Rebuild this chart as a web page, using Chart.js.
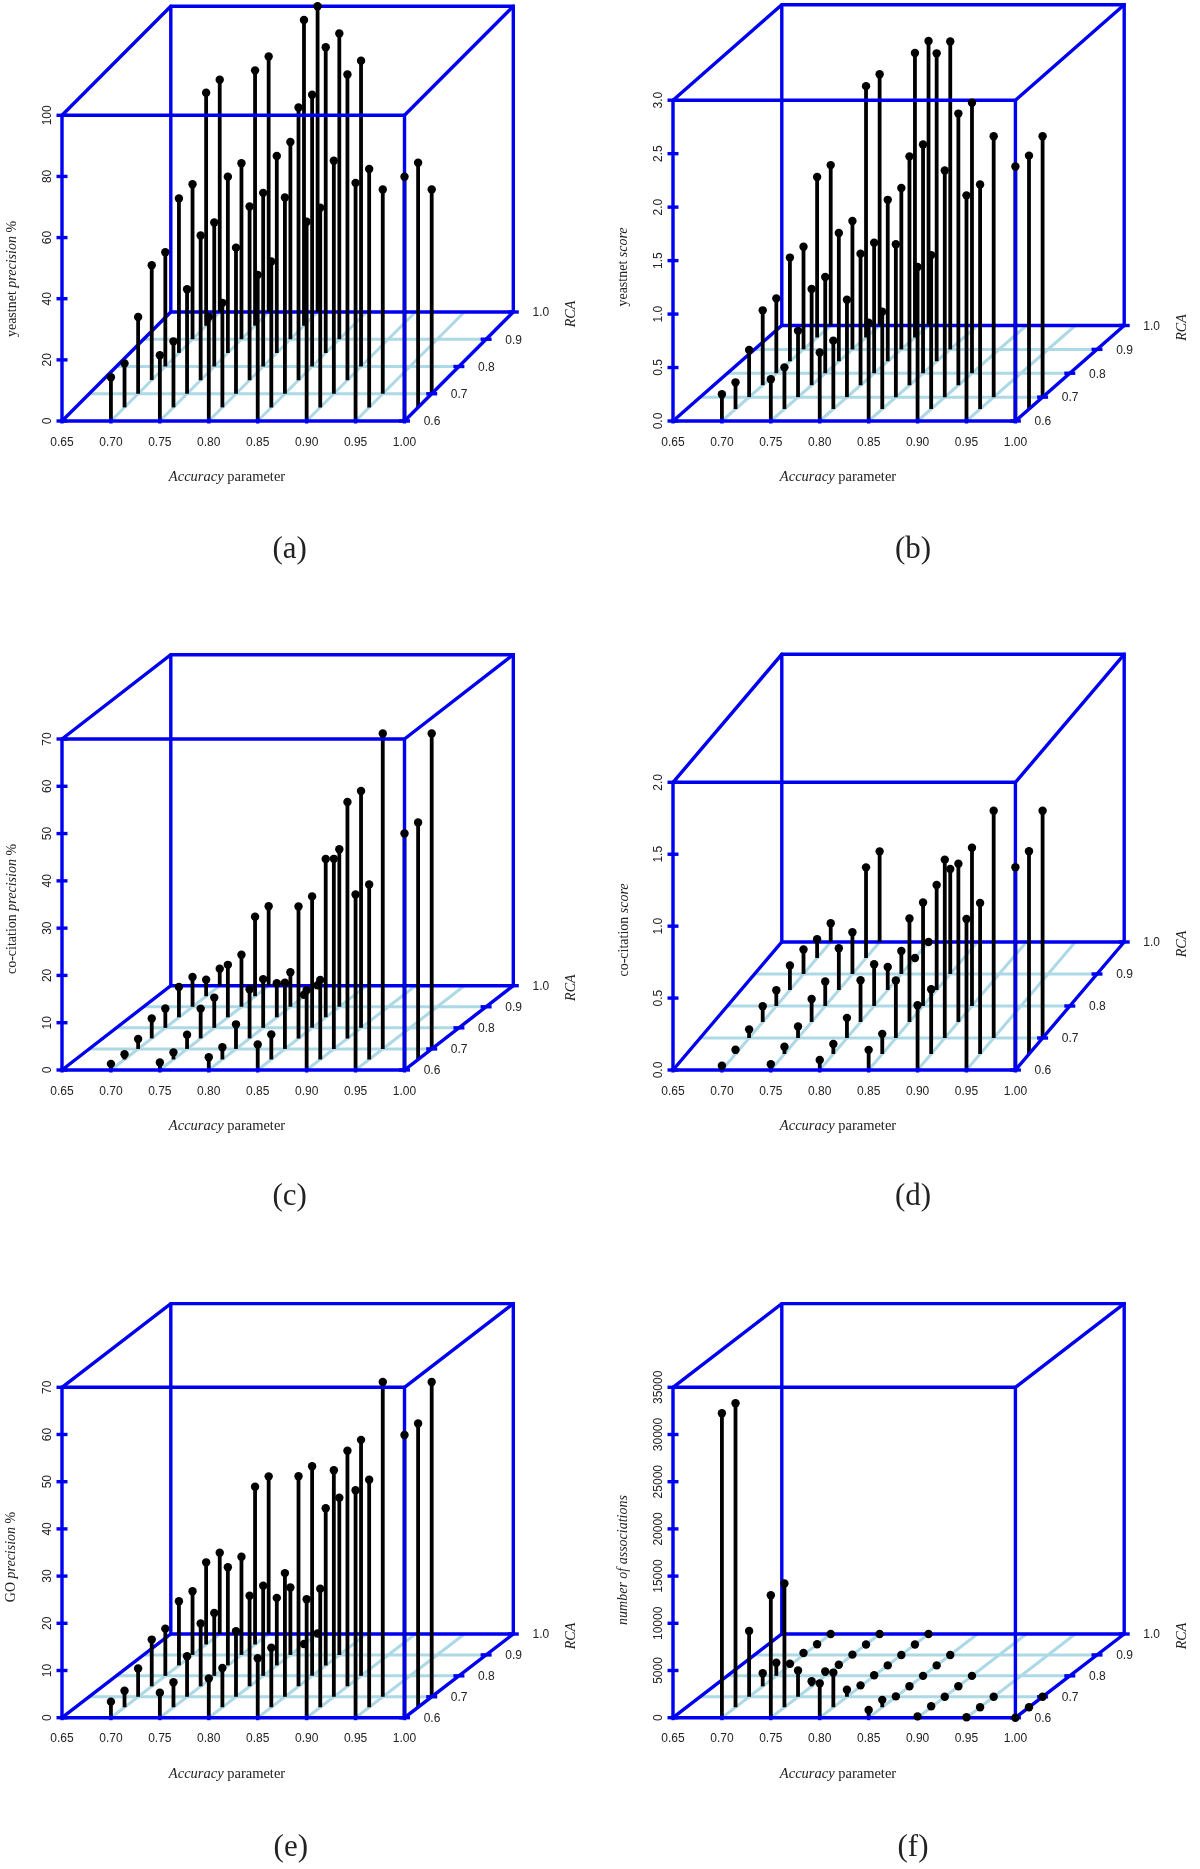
<!DOCTYPE html>
<html>
<head>
<meta charset="utf-8">
<title>Accuracy and RCA parameter sweeps</title>
<script src="https://cdn.jsdelivr.net/npm/chart.js@4/dist/chart.umd.min.js"></script>
<style>
  html, body { margin: 0; padding: 0; background: #fff; }
  #page { position: relative; width: 1200px; height: 1869px; overflow: hidden; }
  canvas { position: absolute; }
  .caption { position: absolute; transform: translate(-50%, -50%); font: 31px "Liberation Serif", serif; color: #222; }
</style>
</head>
<body>
<div id="page"></div>
<script>
// stems start at rca 0.60 and go up in steps of 0.05, one row per accuracy level
var accuracyLevels = [0.70, 0.75, 0.80, 0.85, 0.90, 0.95, 1.00];
var rcaLevels = [0.60, 0.65, 0.70, 0.75, 0.80, 0.85, 0.90, 0.95, 1.00];
var accuracyTicks = [0.65, 0.70, 0.75, 0.80, 0.85, 0.90, 0.95, 1.00];
var rcaTicks = [0.6, 0.7, 0.8, 0.9, 1.0];

var yeastnetPrecision = [
  [14.3, 14.4, 25.1, 37.6, 37.4, 50.5, 50.7, 76.2, 76.0],
  [21.5, 21.6, 34.2, 47.3, 47.1, 57.6, 57.6, 83.5, 83.6],
  [34.1, 34.2, 47.8, 56.8, 56.8, 64.4, 64.5, 100, 100],
  [47.8, 47.7, 64.2, 89.2, 88.9, 100, 100],
  [65.2, 65.3, 76.2, 100, 100],
  [77.9, 78.0, 66.8],
  [79.9, 80.0, 66.8]
];
var yeastnetScore = [
  [0.25, 0.25, 0.44, 0.70, 0.70, 0.97, 0.96, 1.50, 1.50],
  [0.39, 0.39, 0.62, 0.90, 0.90, 1.20, 1.20, 2.35, 2.35],
  [0.64, 0.64, 0.91, 1.23, 1.22, 1.51, 1.51, 2.66, 2.66],
  [0.92, 0.91, 1.43, 2.14, 2.14, 2.88, 2.88],
  [1.44, 1.44, 2.12, 2.54, 2.53],
  [2.11, 2.10, 2.44],
  [2.38, 2.37, 2.44]
];
var coCitationPrecision = [
  [1.3, 1.1, 2.1, 4.2, 4.1, 6.4, 6.3, 3.5, 3.6],
  [1.6, 1.5, 3.0, 6.3, 6.4, 11.1, 11.0, 16.8, 16.8],
  [2.7, 2.6, 5.2, 10.4, 10.3, 7.2, 7.3, 0.3, 0.1],
  [5.4, 5.3, 14.0, 27.9, 27.8, 33.5, 33.3],
  [16.9, 16.8, 40.2, 50.0, 50.1],
  [37.1, 37.0, 66.7],
  [50.0, 50.1, 66.7]
];
var coCitationScore = [
  [0.03, 0.03, 0.06, 0.11, 0.11, 0.17, 0.17, 0.13, 0.13],
  [0.04, 0.05, 0.08, 0.16, 0.17, 0.29, 0.29, 0.63, 0.63],
  [0.07, 0.07, 0.14, 0.29, 0.29, 0.16, 0.16, 0.00, 0.00],
  [0.14, 0.14, 0.40, 0.72, 0.72, 0.73, 0.73],
  [0.45, 0.45, 1.24, 1.10, 1.10],
  [1.05, 1.05, 1.58],
  [1.41, 1.41, 1.58]
];
var goPrecision = [
  [3.4, 3.5, 6.0, 9.9, 10.0, 13.6, 13.5, 17.4, 17.2],
  [5.3, 5.3, 8.6, 13.3, 13.3, 20.8, 20.8, 33.4, 33.4],
  [8.3, 8.3, 13.9, 19.2, 19.1, 14.3, 14.3, 0.1, 0.1],
  [12.6, 12.6, 26.2, 44.5, 44.4, 33.3, 33.3],
  [25.1, 25.1, 48.0, 49.9, 50.0],
  [48.2, 48.2, 66.7],
  [59.9, 60.1, 66.7]
];
var associations = [
  [32250, 32200, 6960, 1380, 1380, 180, 210, 30, 0],
  [12970, 13110, 2790, 530, 460, 70, 30, 0, 0],
  [3640, 3670, 740, 100, 70, 0, 0, 0, 0],
  [810, 780, 40, 0, 0, 0, 0],
  [140, 100, 0, 0, 0],
  [50, 0, 0],
  [0, 0, 0]
];

var blue = '#0000f0';
var floorBlue = '#add8e6';
var textColor = '#222';
var sans = '"Liberation Sans", Arial, sans-serif';
var serif = '"Liberation Serif", "Times New Roman", serif';

// pixel frame of each panel, in page coordinates
var panels = [
  { values: yeastnetPrecision, yTicks: [0, 20, 40, 60, 80, 100], decimals: 0, pageX: 0, pageY: 0,
    left: 62, right: 404.5, bottom: 421, frontTop: 115.3, depthY: 109,
    title: [['yeastnet ', false], ['precision', true], [' %', false]], titleX: 12.7, titleY: 279,
    caption: '(a)', captionX: 289.6, captionY: 548 },
  { values: yeastnetScore, yTicks: [0, 0.5, 1, 1.5, 2, 2.5, 3], decimals: 1, pageX: 600, pageY: 0,
    left: 73, right: 415.4, bottom: 421, frontTop: 100.2, depthY: 95.5,
    title: [['yeastnet ', false], ['score', true]], titleX: 23, titleY: 267,
    caption: '(b)', captionX: 913, captionY: 548 },
  { values: coCitationPrecision, yTicks: [0, 10, 20, 30, 40, 50, 60, 70], decimals: 0, pageX: 0, pageY: 640,
    left: 62, right: 404.5, bottom: 430, frontTop: 99, depthY: 84.3,
    title: [['co-citation ', false], ['precision', true], [' %', false]], titleX: 12.7, titleY: 269,
    caption: '(c)', captionX: 289.6, captionY: 555 },
  { values: coCitationScore, yTicks: [0, 0.5, 1, 1.5, 2], decimals: 1, pageX: 600, pageY: 640,
    left: 73, right: 415.4, bottom: 430, frontTop: 142.3, depthY: 128,
    title: [['co-citation ', false], ['score', true]], titleX: 24, titleY: 290,
    caption: '(d)', captionX: 913, captionY: 555 },
  { values: goPrecision, yTicks: [0, 10, 20, 30, 40, 50, 60, 70], decimals: 0, pageX: 0, pageY: 1290,
    left: 62, right: 404.5, bottom: 427.7, frontTop: 97.3, depthY: 83.7,
    title: [['GO ', false], ['precision', true], [' %', false]], titleX: 11, titleY: 267,
    caption: '(e)', captionX: 290.8, captionY: 556 },
  { values: associations, yTicks: [0, 5000, 10000, 15000, 20000, 25000, 30000, 35000], decimals: 0, pageX: 600, pageY: 1290,
    left: 73, right: 415.4, bottom: 427.7, frontTop: 97.3, depthY: 83.7,
    title: [['number of associations', true]], titleX: 23, titleY: 270,
    caption: '(f)', captionX: 913, captionY: 556 }
];

var depthPxX = 108.8;

// writes mixed roman/italic text as one centred run
function richText(ctx, parts, x, y, size, rotate) {
  ctx.save();
  ctx.translate(x, y);
  if (rotate) ctx.rotate(-Math.PI / 2);
  ctx.textBaseline = 'middle';
  ctx.textAlign = 'left';
  ctx.fillStyle = textColor;
  var total = 0;
  parts.forEach(function(p) {
    ctx.font = (p[1] ? 'italic ' : '') + size + 'px ' + serif;
    total += ctx.measureText(p[0]).width;
  });
  var pos = -total / 2;
  parts.forEach(function(p) {
    ctx.font = (p[1] ? 'italic ' : '') + size + 'px ' + serif;
    ctx.fillText(p[0], pos, 0);
    pos += ctx.measureText(p[0]).width;
  });
  ctx.restore();
}

function newPanel(panel) {
  var yMax = panel.yTicks[panel.yTicks.length - 1];
  var frontHeight = panel.bottom - panel.frontTop;
  var unitsPerPxX = 0.35 / (panel.right - panel.left);
  var depthX = depthPxX * unitsPerPxX;
  var depthY = panel.depthY * yMax / frontHeight;

  // oblique projection of (accuracy, rca, value) onto the chart's x and y
  function project(acc, rca, value) {
    var t = (rca - 0.6) / 0.4;
    return { x: acc + t * depthX, y: value + t * depthY };
  }
  function segment(points, color, width, order) {
    return { data: points, showLine: true, pointRadius: 0, borderColor: color,
      borderWidth: width, order: order, clip: false, borderCapStyle: 'round' };
  }

  var datasets = [];

  // floor grid
  [0.7, 0.8, 0.9].forEach(function(r) {
    datasets.push(segment([project(0.65, r, 0), project(1, r, 0)], floorBlue, 3, 5));
  });
  accuracyLevels.slice(0, 6).forEach(function(a) {
    datasets.push(segment([project(a, 0.6, 0), project(a, 1, 0)], floorBlue, 3, 5));
  });

  // back edges of the box sit behind the stems
  datasets.push(segment([project(0.65, 0.6, 0), project(0.65, 1, 0), project(1, 1, 0)], blue, 3.4, 4));
  datasets.push(segment([project(0.65, 1, 0), project(0.65, 1, yMax)], blue, 3.4, 4));

  // stems and their dots
  var tops = [];
  panel.values.forEach(function(column, i) {
    column.forEach(function(v, j) {
      var base = project(accuracyLevels[i], rcaLevels[j], 0);
      var top = project(accuracyLevels[i], rcaLevels[j], v);
      var stem = segment([base, top], '#000', 3.8, 3);
      stem.borderCapStyle = 'butt';
      datasets.push(stem);
      tops.push(top);
    });
  });
  datasets.push({ data: tops, pointRadius: 4.2, pointBackgroundColor: '#000', pointBorderWidth: 0,
    showLine: false, order: 0, clip: false });

  // front edges go over the stems
  datasets.push(segment([project(0.65, 0.6, 0), project(1, 0.6, 0), project(1, 1, 0), project(1, 1, yMax),
    project(0.65, 1, yMax), project(0.65, 0.6, yMax), project(0.65, 0.6, 0)], blue, 3.4, 1));
  datasets.push(segment([project(1, 0.6, 0), project(1, 0.6, yMax), project(1, 1, yMax)], blue, 3.4, 1));
  datasets.push(segment([project(0.65, 0.6, yMax), project(1, 0.6, yMax)], blue, 3.4, 1));

  // tick stubs straddling the axes
  var stubs = panel.yTicks.map(function(v) { return project(0.65, 0.6, v); });
  rcaTicks.forEach(function(r) { stubs.push(project(1, r, 0)); });
  datasets.push({ data: stubs, pointStyle: 'line', pointRadius: 5.5, pointBorderColor: blue,
    pointBorderWidth: 3.4, showLine: false, order: 1, clip: false });
  var xStubs = accuracyTicks.map(function(a) { return project(a, 0.6, 0); });
  datasets.push({ data: xStubs, pointStyle: 'line', pointRadius: 2.5, pointRotation: 90,
    pointBorderColor: blue, pointBorderWidth: 3.4, showLine: false, order: 1, clip: false });

  var width = 600, height = panel.pageY === 1290 ? 579 : 620;
  var canvas = document.createElement('canvas');
  canvas.width = width;
  canvas.height = height;
  canvas.style.left = panel.pageX + 'px';
  canvas.style.top = panel.pageY + 'px';
  canvas.style.width = width + 'px';
  canvas.style.height = height + 'px';
  document.getElementById('page').appendChild(canvas);

  var yAxisWidth = 40, xAxisHeight = 40;
  var chartTop = panel.frontTop - panel.depthY;
  var chartRight = panel.right + depthPxX;

  var labels = {
    id: 'labels',
    afterDraw: function(chart) {
      var ctx = chart.ctx;
      var sx = chart.scales.x, sy = chart.scales.y;
      ctx.save();
      ctx.font = '12px ' + sans;
      ctx.fillStyle = textColor;
      ctx.textAlign = 'center';
      ctx.textBaseline = 'middle';
      rcaTicks.forEach(function(r) {
        var p = project(1, r, 0);
        ctx.fillText(r.toFixed(1), sx.getPixelForValue(p.x) + 27.5, sy.getPixelForValue(p.y) + 1);
      });
      ctx.restore();
      richText(ctx, [['Accuracy', true], [' parameter', false]], panel.left + 165, panel.bottom + 56.5, 14.5);
      richText(ctx, panel.title, panel.titleX, panel.titleY, 14, true);
      richText(ctx, [['RCA', true]], panel.right + 166.5, panel.bottom - panel.depthY + 2, 14, true);
    }
  };

  // widest label decides how far chart.js pushes the rotated ticks out
  var measure = document.createElement('canvas').getContext('2d');
  measure.font = '12px ' + sans;
  var widest = 0;
  panel.yTicks.forEach(function(v) {
    widest = Math.max(widest, measure.measureText(v.toFixed(panel.decimals)).width);
  });

  return new Chart(canvas, {
    type: 'scatter',
    data: { datasets: datasets },
    plugins: [labels],
    options: {
      responsive: false,
      animation: false,
      events: [],
      layout: { autoPadding: false, padding: {
        left: panel.left - yAxisWidth,
        right: width - chartRight,
        top: chartTop,
        bottom: height - panel.bottom - xAxisHeight
      } },
      plugins: { legend: { display: false }, tooltip: { enabled: false } },
      scales: {
        x: {
          type: 'linear', min: 0.65, max: 0.65 + (chartRight - panel.left) * unitsPerPxX,
          border: { display: false },
          grid: { display: false, drawTicks: false },
          afterBuildTicks: function(scale) {
            scale.ticks = accuracyTicks.map(function(v) { return { value: v }; });
          },
          afterFit: function(scale) {
            scale.height = xAxisHeight;
            scale.paddingLeft = 0;
            scale.paddingRight = 0;
          },
          ticks: {
            color: textColor, font: { family: sans, size: 12 }, padding: 14,
            autoSkip: false, maxRotation: 0, minRotation: 0,
            callback: function(v) { return v.toFixed(2); }
          }
        },
        y: {
          type: 'linear', min: 0, max: yMax + depthY,
          border: { display: false },
          grid: { display: false, drawTicks: false },
          afterBuildTicks: function(scale) {
            scale.ticks = panel.yTicks.map(function(v) { return { value: v }; });
          },
          // rotated labels would otherwise pull the plot area down at the top
          afterFit: function(scale) {
            scale.width = yAxisWidth;
            scale.paddingTop = 0;
            scale.paddingBottom = 0;
          },
          ticks: {
            color: textColor, font: { family: sans, size: 12 },
            padding: 14.3 - widest / 2,
            crossAlign: 'center', autoSkip: false, minRotation: 90, maxRotation: 90,
            callback: function(v) { return v.toFixed(panel.decimals); }
          }
        }
      }
    }
  });
}

panels.forEach(function(panel) {
  newPanel(panel);
  var cap = document.createElement('div');
  cap.className = 'caption';
  cap.textContent = panel.caption;
  cap.style.left = panel.captionX + 'px';
  cap.style.top = (panel.pageY + panel.captionY) + 'px';
  document.getElementById('page').appendChild(cap);
});
</script>
</body>
</html>
